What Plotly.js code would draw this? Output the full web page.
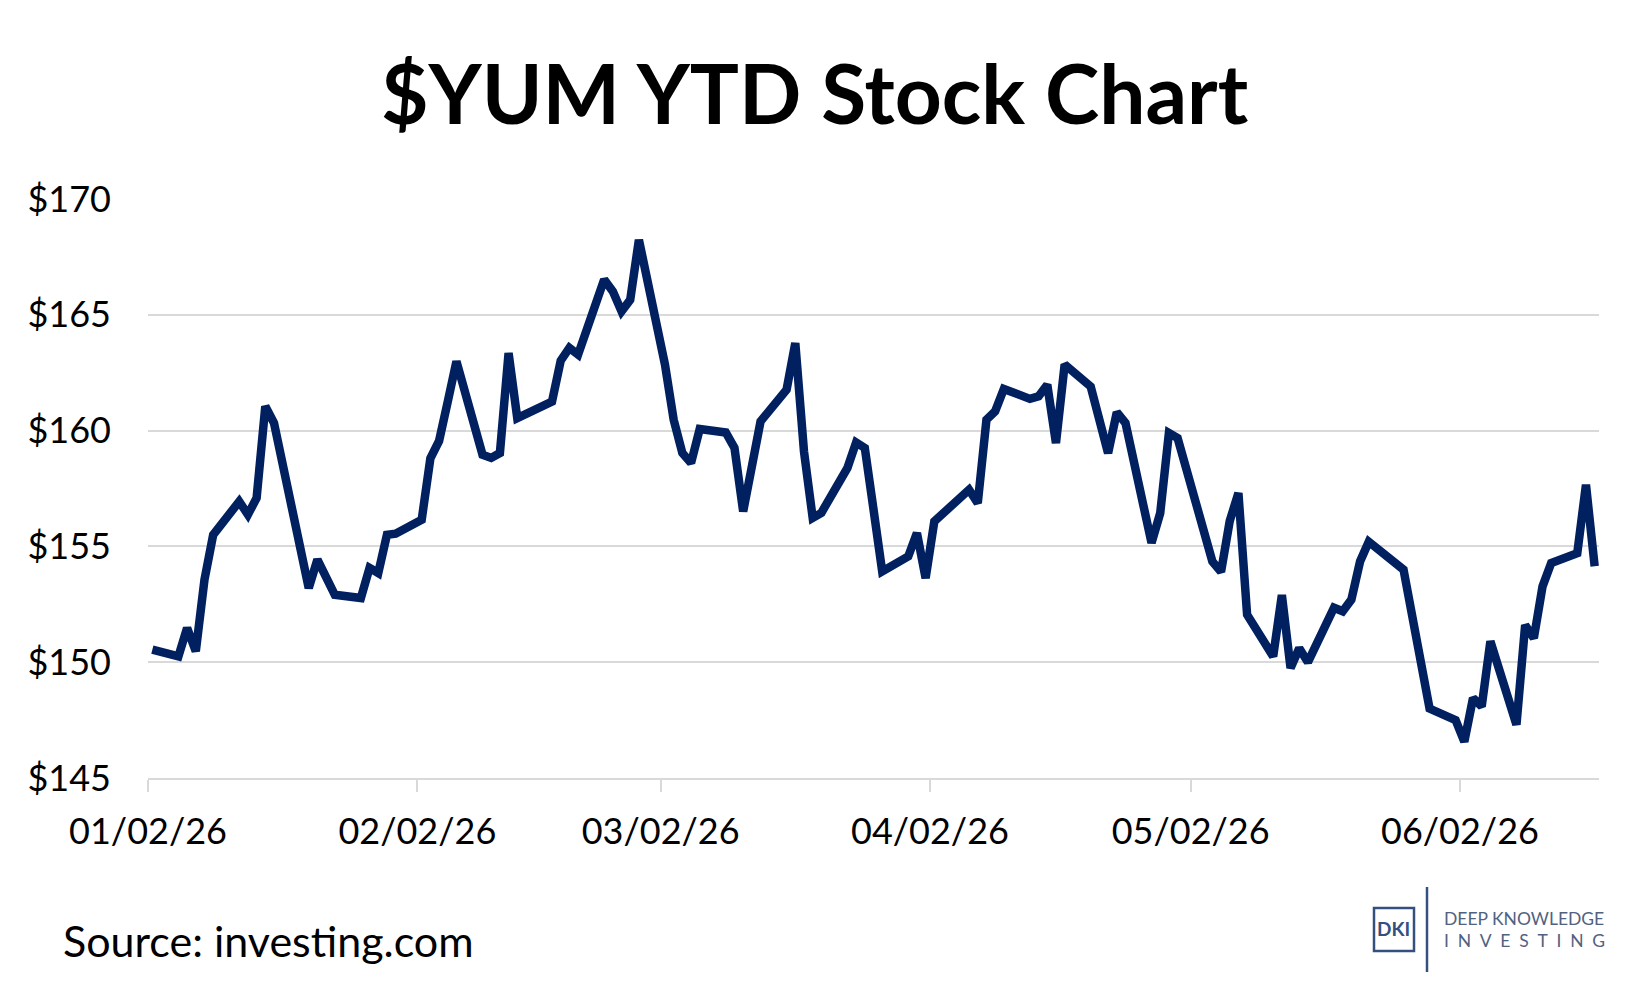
<!DOCTYPE html>
<html>
<head>
<meta charset="utf-8">
<script src="https://cdn.plot.ly/plotly-3.0.1.min.js"></script>
<style>
  html, body { margin: 0; padding: 0; background: #fff; }
  #chart { width: 1649px; height: 991px; }
</style>
</head>
<body>
<div id="chart"></div>
<script>
// YUM daily closes
const dates = [
  '2026-01-02','2026-01-05','2026-01-06','2026-01-07','2026-01-08','2026-01-09',
  '2026-01-12','2026-01-13','2026-01-14','2026-01-15','2026-01-16',
  '2026-01-20','2026-01-21','2026-01-22','2026-01-23',
  '2026-01-26','2026-01-27','2026-01-28','2026-01-29','2026-01-30',
  '2026-02-02','2026-02-03','2026-02-04','2026-02-05','2026-02-06',
  '2026-02-09','2026-02-10','2026-02-11','2026-02-12','2026-02-13',
  '2026-02-17','2026-02-18','2026-02-19','2026-02-20',
  '2026-02-23','2026-02-24','2026-02-25','2026-02-26','2026-02-27',
  '2026-03-02','2026-03-03','2026-03-04','2026-03-05','2026-03-06',
  '2026-03-09','2026-03-10','2026-03-11','2026-03-12','2026-03-13',
  '2026-03-16','2026-03-17','2026-03-18','2026-03-19','2026-03-20',
  '2026-03-23','2026-03-24','2026-03-25','2026-03-26','2026-03-27',
  '2026-03-30','2026-03-31','2026-04-01','2026-04-02',
  '2026-04-06','2026-04-07','2026-04-08','2026-04-09','2026-04-10',
  '2026-04-13','2026-04-14','2026-04-15','2026-04-16','2026-04-17',
  '2026-04-20','2026-04-21','2026-04-22','2026-04-23','2026-04-24',
  '2026-04-27','2026-04-28','2026-04-29','2026-04-30','2026-05-01',
  '2026-05-04','2026-05-05','2026-05-06','2026-05-07','2026-05-08',
  '2026-05-11','2026-05-12','2026-05-13','2026-05-14','2026-05-15',
  '2026-05-18','2026-05-19','2026-05-20','2026-05-21','2026-05-22',
  '2026-05-26','2026-05-27','2026-05-28','2026-05-29',
  '2026-06-01','2026-06-02','2026-06-03','2026-06-04','2026-06-05',
  '2026-06-08','2026-06-09','2026-06-10','2026-06-11','2026-06-12',
  '2026-06-15','2026-06-16','2026-06-17'
];
const prices = [
  150.54,150.25,151.48,150.47,153.56,155.50,
  156.94,156.37,157.09,161.05,160.33,
  153.20,154.43,153.60,152.91,
  152.77,154.07,153.85,155.50,155.55,
  156.15,158.80,159.55,161.25,162.99,
  158.96,158.82,159.03,163.35,160.54,
  161.25,163.02,163.57,163.28,
  166.52,166.01,165.15,165.65,168.24,
  162.85,160.47,159.03,158.60,160.07,
  159.92,159.25,156.51,158.45,160.40,
  161.77,163.78,159.10,156.23,156.45,
  158.39,159.49,159.25,156.60,153.92,
  154.57,155.58,153.63,156.08,
  157.45,156.87,160.47,160.83,161.80,
  161.37,161.48,161.98,159.46,162.85,
  161.90,160.45,159.03,160.79,160.33,
  155.15,156.44,159.90,159.68,158.35,
  154.35,153.90,156.10,157.30,152.05,
  150.25,152.90,149.75,150.60,150.00,
  152.35,152.20,152.70,154.35,155.20,
  154.00,152.00,150.00,148.00,
  147.50,146.57,148.45,148.09,150.90,
  147.30,151.60,151.04,153.27,154.28,
  154.71,157.66,154.14
];
const tickDates = ['2026-01-02','2026-02-02','2026-03-02','2026-04-02','2026-05-02','2026-06-02'];
const tickLabels = ['01/02/26','02/02/26','03/02/26','04/02/26','05/02/26','06/02/26'];
const priceTicks = [145, 150, 155, 160, 165, 170];

const W = 1649, H = 991;
const M = { l: 148, r: 50, t: 199, b: 213 };
// pixel -> paper helpers for the footer items
function px(x) { return (x - M.l) / (W - M.l - M.r); }
function py(y) { return (H - M.b - y) / (H - M.t - M.b); }

const FONT = 'Lato, "Open Sans", sans-serif';
const NAVY = '#002060';
const LOGO = '#34507e';
const GRID = '#d9d9d9';

const trace = {
  x: dates,
  y: prices,
  type: 'scatter',
  mode: 'lines',
  xperiod: 86400000,
  xperiodalignment: 'middle',
  line: { color: NAVY, width: 8.5 },
  hoverinfo: 'skip'
};

const layout = {
  width: W,
  height: H,
  margin: M,
  paper_bgcolor: '#fff',
  plot_bgcolor: '#fff',
  showlegend: false,
  font: { family: FONT, color: '#000' },
  title: {
    text: '$YUM YTD Stock Chart',
    font: { family: FONT, size: 82, weight: 'bold', color: '#000' },
    xref: 'container', x: 0.494, xanchor: 'center',
    yref: 'container', y: 1 - 95 / H, yanchor: 'middle'
  },
  xaxis: {
    type: 'date',
    range: ['2026-01-02', '2026-06-18'],
    tickmode: 'array',
    tickvals: tickDates,
    ticktext: tickLabels,
    ticks: 'outside',
    ticklen: 12,
    tickwidth: 2,
    tickcolor: GRID,
    ticklabelstandoff: 9,
    showgrid: false,
    zeroline: false,
    showline: true,
    linecolor: GRID,
    linewidth: 2,
    tickfont: { family: FONT, size: 36, color: '#000' },
    fixedrange: true
  },
  yaxis: {
    range: [145, 170],
    tickmode: 'array',
    tickvals: priceTicks,
    ticktext: priceTicks.map(v => '$' + v),
    ticks: '',
    ticklabelstandoff: 36,
    showgrid: true,
    gridcolor: GRID,
    gridwidth: 2,
    zeroline: false,
    showline: false,
    tickfont: { family: FONT, size: 36, color: '#000' },
    fixedrange: true
  },
  shapes: [
    // DKI box and divider
    { type: 'rect', xref: 'paper', yref: 'paper',
      x0: px(1374), x1: px(1414), y0: py(951), y1: py(908),
      line: { color: LOGO, width: 2.5 }, fillcolor: 'rgba(0,0,0,0)' },
    { type: 'line', xref: 'paper', yref: 'paper',
      x0: px(1427), x1: px(1427), y0: py(972), y1: py(887),
      line: { color: LOGO, width: 2.5 } }
  ],
  annotations: [
    { text: 'Source: investing.com', xref: 'paper', yref: 'paper',
      x: px(61), y: py(940), xanchor: 'left', yanchor: 'middle', showarrow: false,
      font: { family: FONT, size: 43, color: '#000' } },
    { text: '<b>DKI</b>', xref: 'paper', yref: 'paper',
      x: px(1375), y: py(929), xanchor: 'left', yanchor: 'middle', showarrow: false,
      font: { family: FONT, size: 19, color: LOGO } },
    { text: 'DEEP KNOWLEDGE', xref: 'paper', yref: 'paper',
      x: px(1442), y: py(918), xanchor: 'left', yanchor: 'middle', showarrow: false,
      font: { family: FONT, size: 17.5, color: '#51627f' } },
    { text: 'I\u2002N\u2002V\u2002E\u2002S\u2002T\u2002I\u2002N\u2002G', xref: 'paper', yref: 'paper',
      x: px(1442), y: py(940), xanchor: 'left', yanchor: 'middle', showarrow: false,
      font: { family: FONT, size: 17.5, color: '#51627f' } }
  ]
};

Plotly.newPlot('chart', [trace], layout, { displayModeBar: false, staticPlot: true });
</script>
</body>
</html>
